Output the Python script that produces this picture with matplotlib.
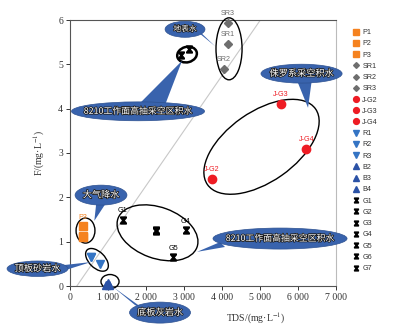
import numpy as np
import matplotlib
matplotlib.use("Agg")
import matplotlib.pyplot as plt
from matplotlib.path import Path
from matplotlib.patches import Ellipse, Polygon
from matplotlib.lines import Line2D
import matplotlib.patheffects as pe

plt.rcParams['mathtext.fontset'] = 'stix'

# sample groups: TDS (mg/L) and F (mg/L)
p_names = ['P1', 'P2', 'P3']
p_tds = [340, 345, 340]
p_f = [1.10, 1.12, 1.35]

sr_names = ['SR1', 'SR2', 'SR3']
sr_tds = [4150, 4040, 4150]
sr_f = [5.46, 4.90, 5.94]

jg_names = ['J-G2', 'J-G3', 'J-G4']
jg_tds = [3730, 5540, 6220]
jg_f = [2.42, 4.11, 3.09]

r_names = ['R1', 'R2', 'R3']
r_tds = [550, 790, 560]
r_f = [0.65, 0.50, 0.66]

b_names = ['B2', 'B3', 'B4']
b_tds = [960, 1000, 1030]
b_f = [0.03, 0.06, 0.02]

g_names = ['G1', 'G2', 'G3', 'G4', 'G5', 'G6', 'G7']
g_tds = [1390, 2260, 2930, 3040, 2710, 3120, 2270]
g_f = [1.49, 1.26, 5.21, 1.26, 0.65, 5.35, 1.25]

labelled = {'P3', 'SR1', 'SR2', 'SR3', 'J-G2', 'J-G3', 'J-G4', 'G1', 'G4', 'G5'}

x_ticks = [0, 1000, 2000, 3000, 4000, 5000, 6000, 7000]
x_ticklabels = ['0', '1 000', '2 000', '3 000', '4 000', '5 000', '6 000', '7 000']
y_ticks = [0, 1, 2, 3, 4, 5, 6]

# grouping ellipses: centre (TDS, F), width/height as axes fraction, angle, line width
groups = [
    (408, 1.25, 0.071, 0.094, 0, 1.0),
    (710, 0.59, 0.105, 0.060, -45, 1.0),
    (1053, 0.10, 0.068, 0.053, 0, 1.0),
    (2303, 1.20, 0.316, 0.192, -20, 1.0),
    (3080, 5.22, 0.075, 0.058, 15, 1.8),
    (4185, 5.35, 0.098, 0.233, 0, 1.0),
    (5040, 3.14, 0.496, 0.263, 35, 1.0),
]

# callouts: text, centre, size (axes fraction), font size, pointer base 1, base 2, tip
callouts = [
    ('地表水', (3027, 5.79), (0.150, 0.060), 5.6, (3290, 5.78), (3474, 5.69), (3816, 5.41)),
    ('8210工作面高抽采空区积水', (1790, 3.94), (0.500, 0.071), 6.4, (1790, 4.08), (2500, 4.08), (2948, 5.08)),
    ('侏罗系采空积水', (6093, 4.79), (0.305, 0.071), 6.6, (5948, 4.69), (6370, 4.69), (6264, 4.02)),
    ('大气降水', (816, 2.05), (0.195, 0.075), 6.6, (700, 1.94), (1000, 1.94), (640, 1.47)),
    ('顶板砂岩水', (-855, 0.39), (0.229, 0.058), 6.6, (-395, 0.45), (-263, 0.32), (553, 0.54)),
    ('底板灰岩水', (2369, -0.60), (0.229, 0.079), 6.6, (1711, -0.43), (1974, -0.54), (1132, -0.02)),
    ('8210工作面高抽采空区积水', (5527, 1.07), (0.504, 0.079), 6.4, (3948, 0.99), (4079, 0.88), (3343, 0.77)),
]

# hourglass marker
hourglass = Path([(-0.8, 1), (0.8, 1), (0.8, 0.75), (0.15, 0), (0.8, -0.75), (0.8, -1),
                  (-0.8, -1), (-0.8, -0.75), (-0.15, 0), (-0.8, 0.75), (-0.8, 1)],
                 [Path.MOVETO] + [Path.LINETO] * 9 + [Path.CLOSEPOLY])

series = [
    (p_names, p_tds, p_f, 's', '#f5821f', 5.5),
    (sr_names, sr_tds, sr_f, 'D', '#6e6e6e', 4.2),
    (jg_names, jg_tds, jg_f, 'o', '#ee1c24', 6.0),
    (r_names, r_tds, r_f, 'v', '#3474c4', 6.0),
    (b_names, b_tds, b_f, '^', '#2b52a6', 6.0),
    (g_names, g_tds, g_f, hourglass, '#000000', 5.0),
]

fig = plt.figure(figsize=(3.95, 3.28), dpi=100)
ax = fig.add_axes([70 / 395, 42 / 328, 266 / 395, 266 / 328])
ax.set_xlim(0, 7000)
ax.set_ylim(0, 6)

ax.plot([180, 5010], [0, 6], color='#c8c8c8', lw=0.8, zorder=1)

handles = []
for names, xs, ys, mk, col, ms in series:
    for n, x, y in zip(names, xs, ys):
        ax.plot(x, y, marker=mk, color=col, ms=ms, ls='none', zorder=4, clip_on=False)
        handles.append(Line2D([], [], marker=mk, color=col, ms=ms * 0.7, ls='none', label=n))
        if n in labelled:
            ax.annotate(n, (x, y), xytext=(0, 6.5), textcoords='offset points',
                        ha='center', va='center', fontsize=5.2, color=col,
                        family='Liberation Sans', zorder=7, annotation_clip=False)

to_axes = ax.transData + ax.transAxes.inverted()

for cx, cy, w, h, ang, lw in groups:
    ax.add_patch(Ellipse(to_axes.transform((cx, cy)), w, h, angle=ang, transform=ax.transAxes,
                         fill=False, ec='black', lw=lw, zorder=3, clip_on=False))

bubble_col = '#3963ad'
for text, c, size, fs, b1, b2, tip in callouts:
    pts = to_axes.transform([b1, b2, tip])
    ax.add_patch(Polygon(pts, closed=True, transform=ax.transAxes, fc=bubble_col, ec='none',
                         zorder=6, clip_on=False))
    cxy = to_axes.transform(c)
    ax.add_patch(Ellipse(cxy, size[0], size[1], transform=ax.transAxes, fc=bubble_col,
                         ec='#2d5190', lw=0.5, zorder=6, clip_on=False))
    ax.text(cxy[0], cxy[1], text, transform=ax.transAxes, ha='center', va='center',
            color='white', fontsize=fs, family='Noto Sans CJK SC', zorder=7,
            path_effects=[pe.withStroke(linewidth=1.1, foreground='#1a1a1a')])

ax.set_xticks(x_ticks)
ax.set_xticklabels(x_ticklabels)
ax.set_yticks(y_ticks)
ax.tick_params(direction='out', length=3, width=0.7, labelsize=7, pad=2, colors='#333333')
for lab in ax.get_xticklabels() + ax.get_yticklabels():
    lab.set_family('Liberation Serif')
for s in ax.spines.values():
    s.set_color('#555555')
    s.set_linewidth(0.8)
ax.spines['right'].set_color('#bbbbbb')

ax.set_xlabel('TDS/(mg·L$^{-1}$)', family='Liberation Serif', fontsize=7, color='#333333')
ax.xaxis.set_label_coords(0.70, -0.095)
ax.set_ylabel('F/(mg·L$^{-1}$)', family='Liberation Serif', fontsize=7, color='#333333')
ax.yaxis.set_label_coords(-0.085, 0.5)

fig.legend(handles=handles, loc='upper left', bbox_to_anchor=(353 / 395, 1 - 29 / 328),
           frameon=False, prop={'family': 'Liberation Sans', 'size': 5.2},
           handlelength=0.8, handletextpad=0.5, labelspacing=0.58, borderpad=0, borderaxespad=0,
           labelcolor='#333333')

fig.savefig('out.png', dpi=100)
